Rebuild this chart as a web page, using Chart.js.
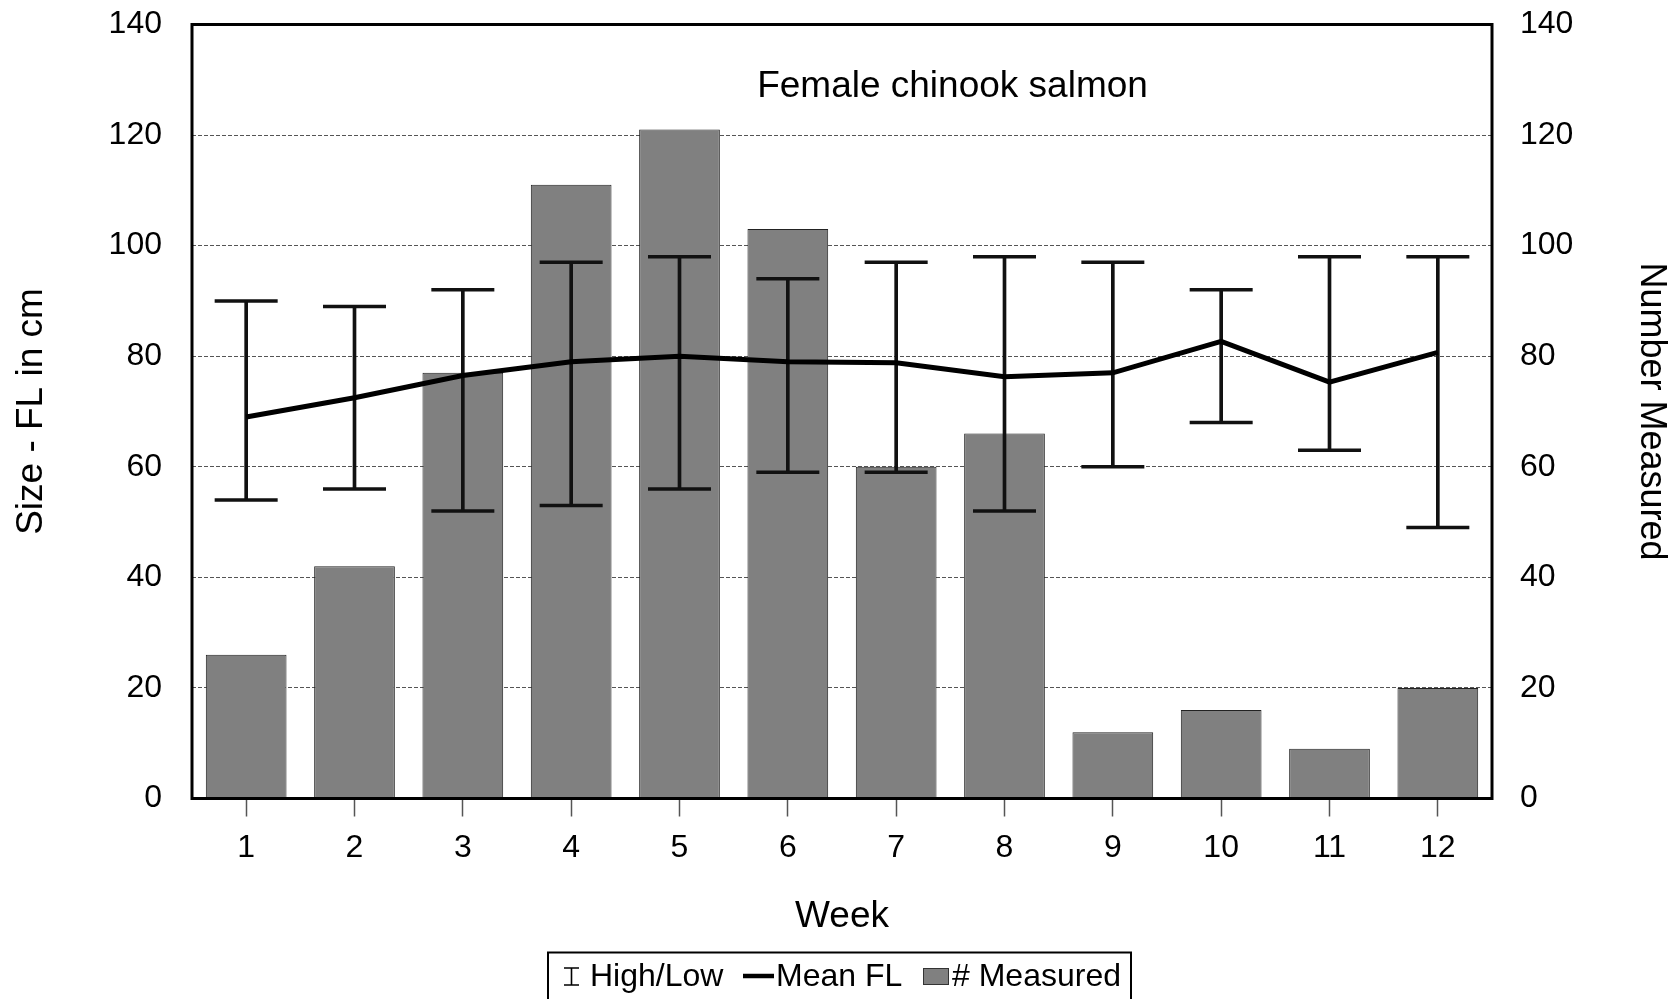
<!DOCTYPE html>
<html>
<head>
<meta charset="utf-8">
<title>Female chinook salmon</title>
<script src="https://cdn.jsdelivr.net/npm/chart.js@4.4.0/dist/chart.umd.min.js"></script>
<style>
  html, body { margin: 0; padding: 0; background: #fff; }
  #wrap { width: 1671px; height: 999px; position: relative; }
</style>
</head>
<body>
<div id="wrap"><canvas id="salmonChart"></canvas></div>
<script>
// data
var weeks = ['1', '2', '3', '4', '5', '6', '7', '8', '9', '10', '11', '12'];
var numMeasured = [26, 42, 77, 111, 121, 103, 60, 66, 12, 16, 9, 20];
var meanFL = [69, 72.5, 76.5, 79, 80, 79, 78.8, 76.3, 77, 82.7, 75.3, 80.7];
var highFL = [90, 89, 92, 97, 98, 94, 97, 98, 97, 92, 98, 98];
var lowFL = [54, 56, 52, 53, 56, 59, 59, 52, 60, 68, 63, 49];
var sizeTicks = [0, 20, 40, 60, 80, 100, 120, 140];
var countTicks = [0, 20, 40, 60, 80, 100, 120, 140];

var FONT = "'Liberation Sans', Arial, sans-serif";
Chart.defaults.font.family = FONT;
Chart.defaults.color = '#000';

// stems of the high/low bars, built from the two arrays
var highLow = weeks.map(function (w, i) { return [lowFL[i], highFL[i]]; });

// keep the plot box where the original has it
function fixWidth(w) {
    return function (s) {
        s.width = w;
        s.paddingTop = 0;
        s.paddingBottom = 0;
    };
}

// box round the plot, chart title and the boxed legend
var decorations = {
    id: 'decorations',
    afterDraw: function (chart) {
        var ctx = chart.ctx;
        var a = chart.chartArea;
        ctx.save();
        ctx.strokeStyle = '#000';
        ctx.lineWidth = 3;
        ctx.strokeRect(a.left, a.top, a.right - a.left, a.bottom - a.top);

        ctx.fillStyle = '#000';
        ctx.font = '37px ' + FONT;
        ctx.textAlign = 'center';
        ctx.textBaseline = 'alphabetic';
        ctx.fillText('Female chinook salmon', a.left + (a.right - a.left) * 0.585, a.top + 72);

        // legend
        ctx.lineWidth = 2;
        ctx.strokeRect(548, 952.5, 583, 60);
        ctx.font = '32px ' + FONT;
        ctx.textAlign = 'left';
        var base = 986;
        // I-beam
        ctx.lineWidth = 1.6;
        ctx.beginPath();
        ctx.moveTo(564, 968); ctx.lineTo(579, 968);
        ctx.moveTo(571.5, 968); ctx.lineTo(571.5, 985);
        ctx.moveTo(564, 985); ctx.lineTo(579, 985);
        ctx.stroke();
        ctx.fillText('High/Low', 590, base);
        // mean line
        ctx.lineWidth = 4.5;
        ctx.beginPath();
        ctx.moveTo(743, 976); ctx.lineTo(774, 976);
        ctx.stroke();
        ctx.fillText('Mean FL', 776, base);
        // bar swatch
        ctx.fillStyle = '#808080';
        ctx.fillRect(923, 968, 26, 17);
        ctx.lineWidth = 1;
        ctx.strokeStyle = '#333';
        ctx.strokeRect(923.5, 968.5, 25, 16);
        ctx.fillStyle = '#000';
        ctx.fillText('# Measured', 952, base);
        ctx.restore();
    }
};

var data = {
    labels: weeks,
    datasets: [
        {
            type: 'line',
            label: 'Mean FL',
            data: meanFL,
            yAxisID: 'y',
            borderColor: '#000',
            borderWidth: 5,
            pointRadius: 0,
            tension: 0,
            order: 1
        },
        {
            type: 'line',
            label: 'High',
            data: highFL,
            yAxisID: 'y',
            showLine: false,
            pointStyle: 'line',
            pointRadius: 31.5,
            pointBorderWidth: 3.5,
            pointBorderColor: '#111',
            pointBackgroundColor: '#111',
            order: 2
        },
        {
            type: 'line',
            label: 'Low',
            data: lowFL,
            yAxisID: 'y',
            showLine: false,
            pointStyle: 'line',
            pointRadius: 31.5,
            pointBorderWidth: 3.5,
            pointBorderColor: '#111',
            pointBackgroundColor: '#111',
            order: 2
        },
        {
            type: 'bar',
            label: 'High/Low',
            data: highLow,
            yAxisID: 'y',
            backgroundColor: '#111',
            barThickness: 3,
            grouped: false,
            order: 3
        },
        {
            type: 'bar',
            label: '# Measured',
            data: numMeasured,
            yAxisID: 'y2',
            backgroundColor: '#808080',
            borderColor: '#222',
            borderWidth: 1,
            categoryPercentage: 1,
            barPercentage: 0.745,
            grouped: false,
            order: 4
        }
    ]
};

var options = {
    responsive: true,
    maintainAspectRatio: false,
    animation: false,
    events: [],
    layout: { autoPadding: false, padding: { top: 24.5, left: 0, right: 0, bottom: 0 } },
    plugins: {
        legend: { display: false },
        tooltip: { enabled: false }
    },
    scales: {
        x: {
            offset: true,
            grid: {
                offset: false,
                drawOnChartArea: false,
                drawTicks: true,
                tickLength: 18,
                tickColor: '#555',
                tickWidth: 1.5
            },
            border: { display: false },
            ticks: { font: { size: 32 }, color: '#000', padding: 12, maxRotation: 0 },
            title: {
                display: true,
                text: 'Week',
                font: { size: 37, lineHeight: 1 },
                padding: { top: 0, bottom: 64 }
            },
            afterFit: function (s) { s.height = 200.5; }
        },
        y: {
            position: 'left',
            min: 0,
            max: 140,
            afterBuildTicks: function (s) { s.ticks = sizeTicks.map(function (v) { return { value: v }; }); },
            grid: {
                drawTicks: false,
                lineWidth: 1,
                color: function (c) {
                    var v = c.tick ? c.tick.value : 0;
                    return (v > 0 && v < 140) ? '#555' : 'rgba(0,0,0,0)';
                }
            },
            border: { display: false, dash: [4, 2] },
            ticks: { font: { size: 32 }, color: '#000', padding: 30 },
            title: {
                display: true,
                text: 'Size - FL in cm',
                font: { size: 37, lineHeight: 1 },
                padding: { top: 13, bottom: 0 }
            },
            afterFit: fixWidth(192)
        },
        y2: {
            position: 'right',
            min: 0,
            max: 140,
            afterBuildTicks: function (s) { s.ticks = countTicks.map(function (v) { return { value: v }; }); },
            grid: { display: false, drawOnChartArea: false, drawTicks: false },
            border: { display: false },
            ticks: { font: { size: 32 }, color: '#000', padding: 28 },
            title: {
                display: true,
                text: 'Number Measured',
                font: { size: 36, lineHeight: 1 },
                padding: { top: 2, bottom: 0 }
            },
            afterFit: fixWidth(179)
        }
    }
};

var salmonChart = new Chart(document.getElementById('salmonChart'), {
    type: 'bar',
    data: data,
    options: options,
    plugins: [decorations]
});
</script>
</body>
</html>
